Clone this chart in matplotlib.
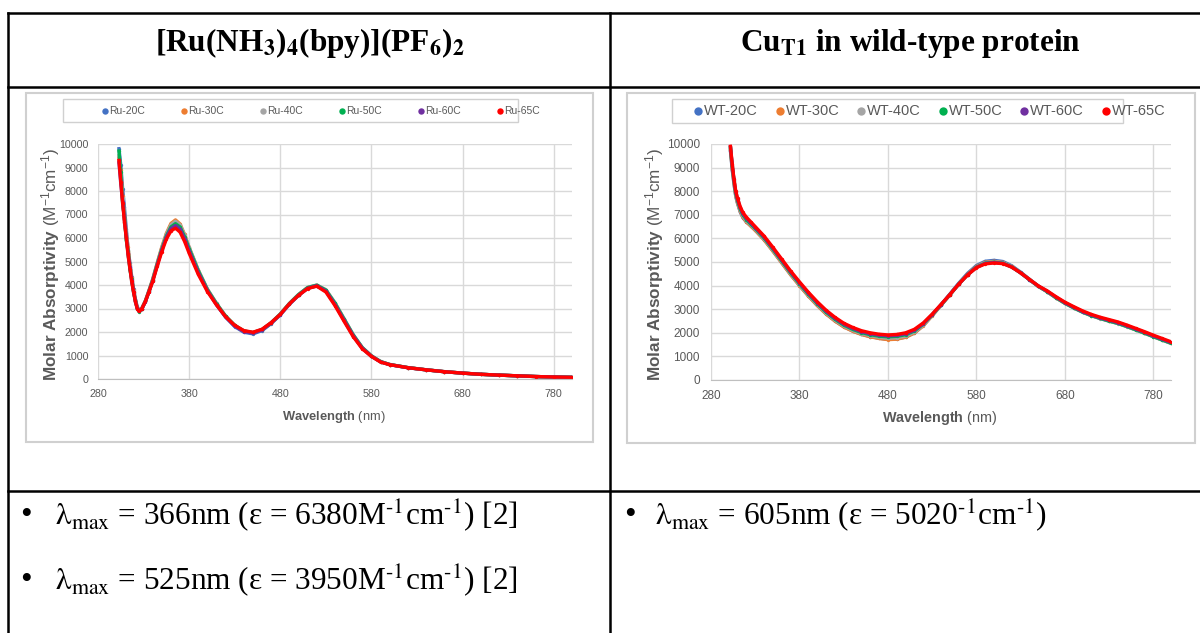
import matplotlib
matplotlib.use("Agg")
import matplotlib.pyplot as plt
from matplotlib.lines import Line2D
from matplotlib.patches import Rectangle

plt.rcParams['font.family'] = ['Liberation Sans', 'DejaVu Sans']
plt.rcParams['mathtext.fontset'] = 'custom'
plt.rcParams['mathtext.rm'] = 'Liberation Sans'
plt.rcParams['mathtext.it'] = 'Liberation Sans:italic'
plt.rcParams['mathtext.bf'] = 'Liberation Sans:bold'

# ---- [Ru(NH3)4(bpy)](PF6)2 spectra ----
ru_labels = ['Ru-20C', 'Ru-30C', 'Ru-40C', 'Ru-50C', 'Ru-60C', 'Ru-65C']
ru_wl = [303, 305, 307, 309, 311, 313, 315, 317, 319, 321, 323, 325, 328, 332, 336,
         340, 345, 350, 355, 360, 365, 370, 375, 380, 390, 400, 410, 420, 430, 440,
         450, 460, 470, 480, 490, 500, 510, 520, 530, 540, 550, 560, 570, 580, 590,
         600, 620, 640, 660, 680, 700, 720, 740, 760, 780, 800]
ru_20 = [9800, 9100, 8100, 7300, 6400, 5500, 4950, 4350, 3850, 3400, 3080, 2910, 3000, 3320, 3760,
         4220, 4900, 5560, 6120, 6540, 6690, 6530, 6100, 5560, 4600, 3780, 3170, 2630, 2230, 1990,
         1920, 2060, 2360, 2730, 3180, 3560, 3860, 3960, 3750, 3180, 2500, 1830, 1300, 965, 730,
         610, 480, 390, 310, 250, 200, 165, 135, 105, 85, 70]
ru_30 = [9400, 8900, 7800, 7000, 6200, 5600, 4850, 4300, 3800, 3380, 3050, 2900, 3000, 3330, 3780,
         4250, 4950, 5620, 6200, 6620, 6770, 6600, 6150, 5600, 4630, 3820, 3210, 2670, 2280, 2040,
         1970, 2100, 2390, 2760, 3210, 3590, 3890, 3990, 3790, 3230, 2550, 1870, 1330, 980, 740,
         615, 485, 390, 310, 250, 200, 165, 135, 105, 85, 70]
ru_40 = [9500, 8600, 7700, 6650, 6100, 5200, 4800, 4100, 3750, 3280, 3020, 2890, 2990, 3320, 3760,
         4230, 4920, 5580, 6150, 6560, 6710, 6560, 6120, 5600, 4640, 3830, 3220, 2680, 2290, 2050,
         1980, 2110, 2400, 2770, 3220, 3600, 3900, 4000, 3800, 3250, 2570, 1890, 1340, 990, 745,
         620, 485, 395, 315, 250, 200, 165, 135, 105, 85, 70]
ru_50 = [9700, 8800, 7450, 6900, 5900, 5450, 4650, 4250, 3680, 3350, 3000, 2870, 2980, 3300, 3740,
         4200, 4880, 5520, 6080, 6470, 6610, 6470, 6050, 5540, 4600, 3800, 3200, 2670, 2280, 2040,
         1970, 2100, 2390, 2760, 3210, 3590, 3890, 3990, 3780, 3220, 2540, 1870, 1330, 980, 740,
         615, 485, 390, 310, 250, 200, 165, 135, 105, 85, 70]
ru_60 = [9200, 8300, 7550, 6800, 6050, 5350, 4750, 4200, 3720, 3320, 3010, 2880, 2970, 3290, 3720,
         4170, 4850, 5480, 6030, 6400, 6530, 6380, 5970, 5450, 4530, 3760, 3160, 2640, 2250, 2020,
         1950, 2090, 2380, 2740, 3190, 3560, 3860, 3970, 3740, 3170, 2500, 1840, 1310, 970, 730,
         610, 480, 390, 310, 250, 200, 165, 135, 105, 85, 70]
ru_65 = [9300, 8400, 7500, 6700, 6000, 5300, 4700, 4150, 3700, 3300, 3000, 2880, 2980, 3300, 3720,
         4150, 4800, 5420, 5950, 6300, 6420, 6250, 5850, 5350, 4450, 3720, 3150, 2650, 2280, 2060,
         1990, 2120, 2400, 2750, 3200, 3560, 3850, 3950, 3700, 3120, 2450, 1800, 1280, 960, 720,
         610, 480, 390, 310, 250, 200, 165, 135, 105, 85, 70]

# ---- CuT1 wild-type protein spectra ----
wt_labels = ['WT-20C', 'WT-30C', 'WT-40C', 'WT-50C', 'WT-60C', 'WT-65C']
wt_wl = [302, 304, 306, 308, 310, 313, 316, 320, 325, 330,
         340, 350, 360, 370, 380, 390, 400, 410, 420, 430,
         440, 450, 460, 470, 480, 490, 500, 510, 520, 530,
         540, 550, 560, 570, 580, 590, 600, 610, 620, 630,
         640, 650, 660, 670, 680, 690, 700, 710, 720, 730,
         740, 750, 760, 770, 780, 790, 800]
wt_20 = [9700, 8900, 8300, 7780, 7480, 7130, 6880, 6700, 6530, 6350,
         5950, 5470, 4970, 4470, 4010, 3570, 3170, 2810, 2510, 2260,
         2080, 1940, 1840, 1770, 1720, 1740, 1820, 2000, 2310, 2740,
         3180, 3640, 4100, 4520, 4850, 5030, 5070, 5020, 4840, 4570,
         4270, 3980, 3750, 3490, 3260, 3070, 2890, 2740, 2620, 2510,
         2410, 2280, 2140, 2000, 1850, 1710, 1570]
wt_30 = [9750, 8950, 8350, 7800, 7500, 7150, 6900, 6700, 6520, 6340,
         5940, 5460, 4960, 4460, 4000, 3560, 3160, 2800, 2500, 2250,
         2070, 1930, 1830, 1760, 1710, 1730, 1810, 1990, 2300, 2720,
         3160, 3610, 4070, 4490, 4810, 4990, 5030, 4980, 4810, 4550,
         4260, 3970, 3740, 3480, 3250, 3060, 2880, 2730, 2610, 2500,
         2400, 2270, 2130, 1990, 1840, 1700, 1560]
wt_40 = [9800, 9000, 8400, 7850, 7550, 7200, 6950, 6750, 6560, 6380,
         5980, 5500, 5000, 4500, 4040, 3600, 3200, 2840, 2540, 2290,
         2110, 1970, 1880, 1810, 1770, 1790, 1860, 2030, 2330, 2740,
         3170, 3610, 4060, 4470, 4790, 4970, 5010, 4970, 4800, 4540,
         4250, 3970, 3740, 3480, 3250, 3050, 2870, 2720, 2600, 2490,
         2390, 2260, 2120, 1980, 1830, 1690, 1550]
wt_50 = [9850, 9050, 8450, 7900, 7600, 7250, 7000, 6800, 6600, 6420,
         6020, 5540, 5040, 4540, 4080, 3640, 3240, 2880, 2580, 2330,
         2150, 2010, 1920, 1860, 1830, 1850, 1920, 2080, 2370, 2760,
         3180, 3610, 4060, 4460, 4780, 4950, 4990, 4950, 4790, 4540,
         4250, 3970, 3750, 3490, 3260, 3060, 2880, 2730, 2610, 2500,
         2400, 2270, 2130, 1990, 1840, 1700, 1560]
wt_60 = [9880, 9100, 8480, 7950, 7650, 7300, 7050, 6850, 6650, 6460,
         6060, 5580, 5080, 4580, 4120, 3680, 3280, 2920, 2620, 2370,
         2190, 2050, 1960, 1900, 1870, 1890, 1960, 2110, 2390, 2770,
         3190, 3620, 4060, 4460, 4770, 4940, 4980, 4940, 4790, 4540,
         4250, 3980, 3760, 3510, 3280, 3080, 2900, 2750, 2630, 2530,
         2430, 2300, 2160, 2020, 1870, 1730, 1590]
wt_65 = [9900, 9150, 8500, 8000, 7700, 7350, 7100, 6900, 6700, 6500,
         6100, 5620, 5120, 4620, 4160, 3720, 3320, 2960, 2660, 2410,
         2230, 2090, 2000, 1940, 1910, 1930, 2000, 2150, 2420, 2790,
         3200, 3620, 4060, 4450, 4760, 4920, 4960, 4930, 4780, 4540,
         4260, 3990, 3780, 3530, 3300, 3110, 2930, 2780, 2660, 2560,
         2460, 2330, 2190, 2050, 1900, 1760, 1620]

x_ticks = [280, 380, 480, 580, 680, 780]
y_ticks = [0, 1000, 2000, 3000, 4000, 5000, 6000, 7000, 8000, 9000, 10000]

colors = ['#4472C4', '#ED7D31', '#A5A5A5', '#00B050', '#7030A0', '#FF0000']
grey_txt = '#595959'

W, H = 1200, 633
fig = plt.figure(figsize=(W / 100, H / 100), dpi=100)
fig.patch.set_facecolor('white')


def fx(px):
    return px / W


def fy(py):
    return 1 - py / H


def line(x0, y0, x1, y1, color='black', lw=1.8):
    fig.add_artist(Line2D([fx(x0), fx(x1)], [fy(y0), fy(y1)], color=color, lw=lw,
                          transform=fig.transFigure, solid_capstyle='projecting'))


def box(x0, y0, x1, y1, color, lw):
    fig.add_artist(Rectangle((fx(x0), fy(y1)), fx(x1) - fx(x0), fy(y0) - fy(y1),
                             transform=fig.transFigure, fill=False, edgecolor=color, lw=lw))


# table grid
line(8, 13, 1200, 13)
line(8, 87, 1200, 87)
line(8, 491, 1200, 491)
line(8, 13, 8, 633)
line(610, 13, 610, 633)

serif = 'Liberation Serif'
fig.text(fx(310), fy(43), r'[Ru(NH$_\mathbf{3}$)$_\mathbf{4}$(bpy)](PF$_\mathbf{6}$)$_\mathbf{2}$',
         family=serif, weight='bold', fontsize=22.5, math_fontfamily='stix', ha='center', va='center')
fig.text(fx(910), fy(43), r'Cu$_\mathbf{T1}$ in wild-type protein',
         family=serif, weight='bold', fontsize=22.5, math_fontfamily='stix', ha='center', va='center')

bullets = [
    (26, 55, 516, r'$\mathrm{\lambda_{max}}$ = 366nm (ε = 6380M$^{\text{-1}}$cm$^{\text{-1}}$) [2]'),
    (26, 55, 581, r'$\mathrm{\lambda_{max}}$ = 525nm (ε = 3950M$^{\text{-1}}$cm$^{\text{-1}}$) [2]'),
    (630, 655, 516, r'$\mathrm{\lambda_{max}}$ = 605nm (ε = 5020$^{\text{-1}}$cm$^{\text{-1}}$)'),
]
for bx, tx, ty, s in bullets:
    fig.text(fx(bx), fy(ty), '•', family=serif, fontsize=24, ha='center', va='center')
    fig.text(fx(tx), fy(ty), s, family=serif, fontsize=22.5, math_fontfamily='stix',
             ha='left', va='center')


def panel(frame, legend_box, legend_x0, legend_step, legend_y, legend_fs, legend_ms, legend_gap,
          axes_px, wl, series, labels, tick_fs, ylab_x, xlab_x, xlab_y, lab_fs, xlab_fs, ypad):
    box(*frame, color='#d0d0d0', lw=1.5)
    box(*legend_box, color='#d0d0d0', lw=1.0)
    for i, (lab, c) in enumerate(zip(labels, colors)):
        mx = legend_x0 + i * legend_step
        fig.add_artist(Line2D([fx(mx)], [fy(legend_y)], marker='o', ms=legend_ms, color=c,
                              mec='none', transform=fig.transFigure))
        fig.text(fx(mx + legend_gap), fy(legend_y), lab, fontsize=legend_fs,
                 color=grey_txt, ha='left', va='center')

    x0, y0, x1, y1 = axes_px
    ax = fig.add_axes([fx(x0), fy(y1), fx(x1) - fx(x0), fy(y0) - fy(y1)])
    for vals, c in zip(series, colors):
        ax.plot(wl, vals, color=c, lw=2.4, marker='o', ms=2.4, mec='none', solid_joinstyle='round')
    ax.set_xlim(280, 800)
    ax.set_ylim(0, 10000)
    ax.set_xticks(x_ticks)
    ax.set_yticks(y_ticks)
    ax.grid(True, color='#d9d9d9', lw=1.0)
    ax.set_axisbelow(True)
    for side in ['top', 'right', 'left']:
        ax.spines[side].set_visible(False)
    ax.spines['bottom'].set_color('#bfbfbf')
    ax.tick_params(length=0, labelsize=tick_fs, labelcolor=grey_txt)
    ax.tick_params(axis='x', pad=7)
    ax.tick_params(axis='y', pad=ypad)

    fig.text(fx(ylab_x), fy(264), r'$\mathbf{Molar\ Absorptivity}$ (M$^{-1}$cm$^{-1}$)',
             rotation=90, fontsize=lab_fs, color=grey_txt, ha='center', va='center')
    fig.text(fx(xlab_x), fy(xlab_y), r'$\mathbf{Wavelength}$ (nm)',
             fontsize=xlab_fs, color=grey_txt, ha='center', va='center')
    return ax


panel(frame=(26, 93, 593, 442), legend_box=(63, 99, 518, 122),
      legend_x0=105, legend_step=79, legend_y=110.5, legend_fs=7.5, legend_ms=4.6, legend_gap=4,
      axes_px=(98, 144, 572, 379), wl=ru_wl,
      series=[ru_20, ru_30, ru_40, ru_50, ru_60, ru_65], labels=ru_labels,
      tick_fs=7.7, ylab_x=51, xlab_x=334, xlab_y=417, lab_fs=12.3, xlab_fs=9.3, ypad=7)

panel(frame=(627, 93, 1195, 443), legend_box=(672, 99, 1123, 123),
      legend_x0=698, legend_step=81.5, legend_y=111, legend_fs=10.5, legend_ms=6, legend_gap=6,
      axes_px=(711, 144, 1171, 380), wl=wt_wl,
      series=[wt_20, wt_30, wt_40, wt_50, wt_60, wt_65], labels=wt_labels,
      tick_fs=8.5, ylab_x=655, xlab_x=940, xlab_y=418, lab_fs=12.3, xlab_fs=10.4, ypad=8)

fig.savefig('out.png', dpi=100, facecolor='white')
